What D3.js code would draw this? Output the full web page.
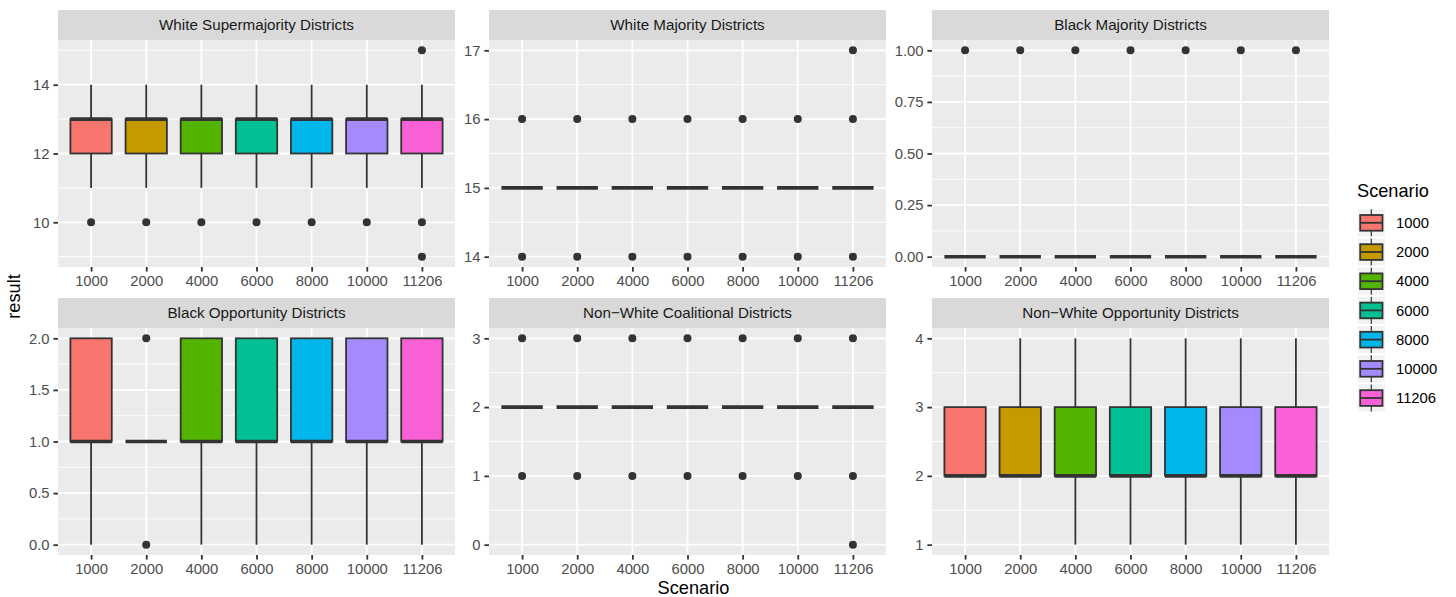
<!DOCTYPE html>
<html>
<head>
<meta charset="utf-8">
<script src="https://cdn.jsdelivr.net/npm/d3@7"></script>
<style>
    body { margin: 0; background: #fff; }
    svg { display: block; font-family: "Liberation Sans", Arial, Helvetica, sans-serif; }
</style>
</head>
<body>
<svg id="chart" width="1456" height="597"></svg>
<script>
// ---- data ----
var scenarios = ["1000", "2000", "4000", "6000", "8000", "10000", "11206"];
var panelTitles = [
    "White Supermajority Districts", "White Majority Districts", "Black Majority Districts",
    "Black Opportunity Districts", "Non\u2212White Coalitional Districts", "Non\u2212White Opportunity Districts"
];
var fillColors = ["#F8766D", "#C49A00", "#53B400", "#00C094", "#00B6EB", "#A58AFF", "#FB61D7"];

// [lower whisker, q1, median, q3, upper whisker] per scenario
var whiteSuperBox = [[11, 12, 13, 13, 14], [11, 12, 13, 13, 14], [11, 12, 13, 13, 14], [11, 12, 13, 13, 14],
    [11, 12, 13, 13, 14], [11, 12, 13, 13, 14], [11, 12, 13, 13, 14]];
var whiteSuperOut = [[10], [10], [10], [10], [10], [10], [9, 10, 15]];

var whiteMajBox = [[15, 15, 15, 15, 15], [15, 15, 15, 15, 15], [15, 15, 15, 15, 15], [15, 15, 15, 15, 15],
    [15, 15, 15, 15, 15], [15, 15, 15, 15, 15], [15, 15, 15, 15, 15]];
var whiteMajOut = [[14, 16], [14, 16], [14, 16], [14, 16], [14, 16], [14, 16], [14, 16, 17]];

var blackMajBox = [[0, 0, 0, 0, 0], [0, 0, 0, 0, 0], [0, 0, 0, 0, 0], [0, 0, 0, 0, 0],
    [0, 0, 0, 0, 0], [0, 0, 0, 0, 0], [0, 0, 0, 0, 0]];
var blackMajOut = [[1], [1], [1], [1], [1], [1], [1]];

var blackOppBox = [[0, 1, 1, 2, 2], [1, 1, 1, 1, 1], [0, 1, 1, 2, 2], [0, 1, 1, 2, 2],
    [0, 1, 1, 2, 2], [0, 1, 1, 2, 2], [0, 1, 1, 2, 2]];
var blackOppOut = [[], [0, 2], [], [], [], [], []];

var coalitionBox = [[2, 2, 2, 2, 2], [2, 2, 2, 2, 2], [2, 2, 2, 2, 2], [2, 2, 2, 2, 2],
    [2, 2, 2, 2, 2], [2, 2, 2, 2, 2], [2, 2, 2, 2, 2]];
var coalitionOut = [[1, 3], [1, 3], [1, 3], [1, 3], [1, 3], [1, 3], [0, 1, 3]];

var nonWhiteOppBox = [[2, 2, 2, 3, 3], [2, 2, 2, 3, 4], [1, 2, 2, 3, 4], [1, 2, 2, 3, 4],
    [1, 2, 2, 3, 4], [1, 2, 2, 3, 4], [1, 2, 2, 3, 4]];
var nonWhiteOppOut = [[], [], [], [], [], [], []];

var yTicks = [[10, 12, 14], [14, 15, 16, 17], [0, 0.25, 0.5, 0.75, 1], [0, 0.5, 1, 1.5, 2], [0, 1, 2, 3], [1, 2, 3, 4]];
var yTickFormats = ["d", "d", ".2f", ".1f", "d", "d"];

(function (win) {

    "use strict";

    var _config = {
        colLeft: [58, 489, 932],
        rowTop: [10, 298],
        panelW: 397,
        panelH: 227,
        stripH: 30,
        axisFont: 14.8,
        stripFont: 15.2,
        titleFont: 18.2,
        line: 1.8
    };

    var panels = [
        {box: whiteSuperBox, out: whiteSuperOut},
        {box: whiteMajBox, out: whiteMajOut},
        {box: blackMajBox, out: blackMajOut},
        {box: blackOppBox, out: blackOppOut},
        {box: coalitionBox, out: coalitionOut},
        {box: nonWhiteOppBox, out: nonWhiteOppOut}
    ];

    var svg = d3.select("#chart");

    var _tool = {
        drawPanel: function (idx) {
            var p = panels[idx],
                x0 = _config.colLeft[idx % 3],
                y0 = _config.rowTop[Math.floor(idx / 3)] + _config.stripH,
                w = _config.panelW,
                h = _config.panelH;

            var g = svg.append("g").attr("transform", "translate(" + x0 + "," + y0 + ")");

            // strip
            g.append("rect").attr("x", 0).attr("y", -_config.stripH)
                .attr("width", w).attr("height", _config.stripH).attr("fill", "#D9D9D9");
            g.append("text").attr("x", w / 2).attr("y", -_config.stripH / 2).attr("dy", "0.36em")
                .attr("text-anchor", "middle").attr("font-size", _config.stripFont).attr("fill", "#1A1A1A")
                .text(panelTitles[idx]);

            g.append("rect").attr("width", w).attr("height", h).attr("fill", "#EBEBEB");

            // scales
            var vals = [];
            p.box.forEach(function (b, i) { vals = vals.concat(b, p.out[i]); });
            var lo = d3.min(vals), hi = d3.max(vals), pad = (hi - lo) * 0.05;
            var y = d3.scaleLinear().domain([lo - pad, hi + pad]).range([h, 0]);
            var x = d3.scalePoint().domain(scenarios).range([0, w]).padding(0.6);
            var bw = x.step() * 0.75;

            // grid
            var ticks = yTicks[idx], step = ticks[1] - ticks[0], minors = [];
            for (var m = ticks[0] - step / 2; m <= ticks[ticks.length - 1] + step / 2 + 1e-9; m += step) {
                if (m >= y.domain()[0] && m <= y.domain()[1]) minors.push(m);
            }
            g.selectAll(".minor").data(minors).enter().append("line")
                .attr("x1", 0).attr("x2", w).attr("y1", y).attr("y2", y)
                .attr("stroke", "#fff").attr("stroke-width", 0.9);
            g.selectAll(".major").data(ticks).enter().append("line")
                .attr("x1", 0).attr("x2", w).attr("y1", y).attr("y2", y)
                .attr("stroke", "#fff").attr("stroke-width", _config.line);
            g.selectAll(".vgrid").data(scenarios).enter().append("line")
                .attr("x1", x).attr("x2", x).attr("y1", 0).attr("y2", h)
                .attr("stroke", "#fff").attr("stroke-width", _config.line);

            // boxes
            p.box.forEach(function (b, i) {
                var cx = x(scenarios[i]);
                var bg = g.append("g");
                if (b[1] > b[0]) {
                    bg.append("line").attr("x1", cx).attr("x2", cx).attr("y1", y(b[0])).attr("y2", y(b[1]))
                        .attr("stroke", "#333").attr("stroke-width", _config.line);
                }
                if (b[4] > b[3]) {
                    bg.append("line").attr("x1", cx).attr("x2", cx).attr("y1", y(b[3])).attr("y2", y(b[4]))
                        .attr("stroke", "#333").attr("stroke-width", _config.line);
                }
                bg.append("rect").attr("x", cx - bw / 2).attr("width", bw)
                    .attr("y", y(b[3])).attr("height", y(b[1]) - y(b[3]))
                    .attr("fill", fillColors[i]).attr("stroke", "#333").attr("stroke-width", _config.line);
                bg.append("line").attr("x1", cx - bw / 2).attr("x2", cx + bw / 2)
                    .attr("y1", y(b[2])).attr("y2", y(b[2]))
                    .attr("stroke", "#333").attr("stroke-width", _config.line * 2);
                bg.selectAll("circle").data(p.out[i]).enter().append("circle")
                    .attr("cx", cx).attr("cy", y).attr("r", 4).attr("fill", "#333");
            });

            // axes
            var ya = g.append("g").call(d3.axisLeft(y).tickValues(ticks)
                .tickFormat(d3.format(yTickFormats[idx])).tickSize(4.6).tickPadding(3.9));
            var xa = g.append("g").attr("transform", "translate(0," + h + ")")
                .call(d3.axisBottom(x).tickSize(4.6).tickPadding(4));
            [ya, xa].forEach(function (a) {
                a.attr("font-family", null).attr("font-size", _config.axisFont);
                a.select(".domain").remove();
                a.selectAll(".tick line").attr("stroke", "#333").attr("stroke-width", _config.line);
                a.selectAll(".tick text").attr("fill", "#4D4D4D");
            });
        },

        drawLegend: function () {
            var lg = svg.append("g");
            lg.append("text").attr("x", 1357).attr("y", 196.7)
                .attr("font-size", _config.titleFont).attr("fill", "#000").text("Scenario");
            var keys = lg.selectAll(".key").data(scenarios).enter().append("g")
                .attr("transform", function (d, i) { return "translate(1357.7," + (209.3 + i * 29.2) + ")"; });
            keys.append("rect").attr("width", 27.3).attr("height", 27).attr("fill", "#F2F2F2");
            keys.append("line").attr("x1", 13.6).attr("x2", 13.6).attr("y1", 0).attr("y2", 27)
                .attr("stroke", "#333").attr("stroke-width", 1.2);
            keys.append("rect").attr("x", 2.5).attr("y", 5.7).attr("width", 22.3).attr("height", 15.7)
                .attr("fill", function (d, i) { return fillColors[i]; })
                .attr("stroke", "#333").attr("stroke-width", _config.line);
            keys.append("line").attr("x1", 2.5).attr("x2", 24.8).attr("y1", 13.5).attr("y2", 13.5)
                .attr("stroke", "#333").attr("stroke-width", _config.line);
            keys.append("text").attr("x", 38.3).attr("y", 13.5).attr("dy", "0.35em")
                .attr("font-size", _config.axisFont).attr("fill", "#000").text(function (d) { return d; });
        },

        drawTitles: function () {
            svg.append("text").attr("x", 693.5).attr("y", 594)
                .attr("text-anchor", "middle").attr("font-size", _config.titleFont).text("Scenario");
            svg.append("text").attr("transform", "translate(20,296.5) rotate(-90)")
                .attr("text-anchor", "middle").attr("font-size", _config.titleFont).text("result");
        }
    };

    for (var i = 0; i < panels.length; i++) {
        _tool.drawPanel(i);
    }
    _tool.drawLegend();
    _tool.drawTitles();

})(window);
</script>
</body>
</html>
